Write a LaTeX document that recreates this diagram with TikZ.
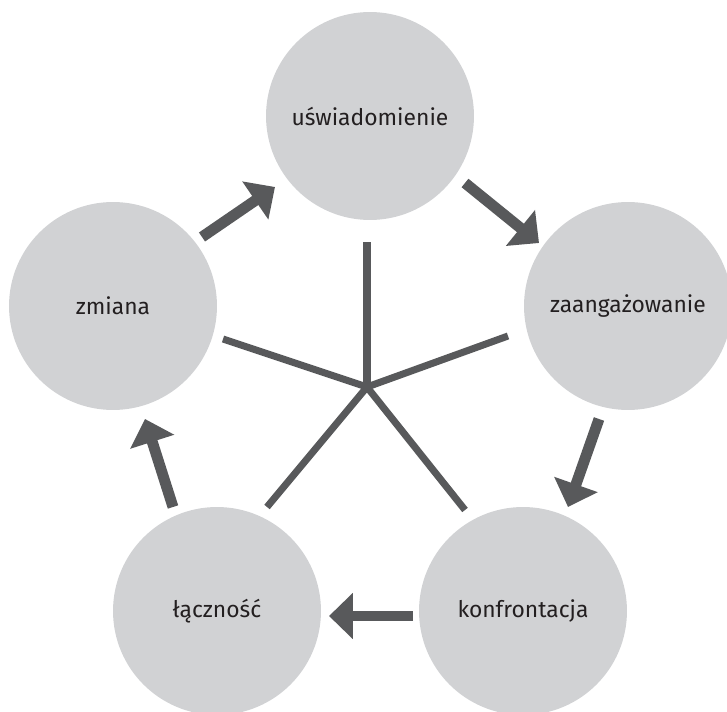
\documentclass[tikz,border=0pt]{standalone}
\usepackage{fontspec}
\setmainfont{Fira Sans}
\usetikzlibrary{arrows.meta}

\definecolor{krag}{HTML}{D1D2D4}
\definecolor{ciemny}{HTML}{58595B}
\definecolor{napis}{HTML}{231F20}

\begin{document}
\begin{tikzpicture}[x=0.02cm, y=-0.02cm,
    etap/.style={circle, fill=krag, inner sep=0pt, minimum size=4.16cm,
      font=\fontsize{13}{15}\selectfont, text=napis},
    ramie/.style={draw=ciemny, line width=4pt},
    strzalka/.style={draw=ciemny, line width=6.2pt,
      -{Triangle[width=25.5pt, length=13.6pt]}}]
            \useasboundingbox (0,0) rectangle (727,712);
            % etapy
            \node[etap] (usw) at (370,116) {uświadomienie};
            \node[etap] (zaa) at (628,306) {zaangażowanie};
            \node[etap] (kon) at (523,611) {konfrontacja};
            \node[etap] (lac) at (217,611) {łączność};
            \node[etap] (zmi) at (113,306) {zmiana};
            % gwiazda
            \coordinate (S) at (367,387);
            \coordinate (S_u) at (367,242);
            \coordinate (S_z) at (508,336);
            \coordinate (S_k) at (465,510);
            \coordinate (S_l) at (267,507);
            \coordinate (S_m) at (223,339);
            \foreach \k in {u,z,k,l,m}
              \draw[ramie] (S) -- (S_\k);
            % strzalki
            \coordinate (A_1) at (202,237); \coordinate (B_1) at (275,187);
            \coordinate (A_2) at (465,183); \coordinate (B_2) at (539,243);
            \coordinate (A_3) at (599,419); \coordinate (B_3) at (568,507);
            \coordinate (A_4) at (413,616); \coordinate (B_4) at (329,616);
            \coordinate (A_5) at (173,507); \coordinate (B_5) at (145,419);
            \foreach \i in {1,...,5}
              \draw[strzalka] (A_\i) -- (B_\i);
        \end{tikzpicture}
\end{document}
